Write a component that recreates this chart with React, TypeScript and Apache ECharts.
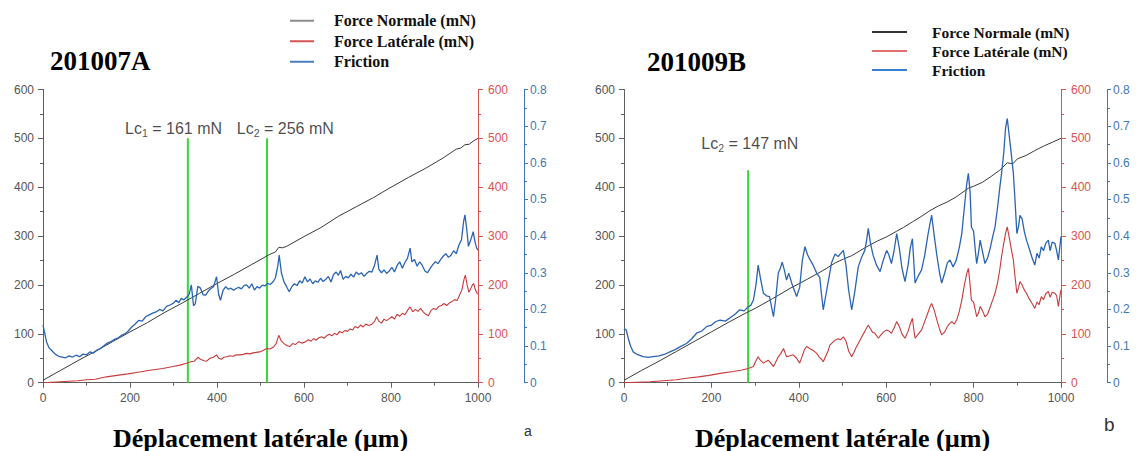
import { useEffect, useRef } from "react";
import * as echarts from "echarts";

// ---------- Labels ----------
const seriesNames = ["Force Normale (mN)", "Force Latérale (mN)", "Friction"];
const chartTitles = ["201007A", "201009B"];
const xAxisTitle = "Déplacement latérale (µm)";
const panelLetters = ["a", "b"];

// ---------- Chart A (201007A) ----------
const normalA: number[][] = [
  [0, 5], [40, 25], [80, 45], [120, 64], [160, 84], [200, 104], [240, 123], [280, 144], [320, 163],
  [360, 183], [400, 203], [440, 222], [480, 242], [520, 262], [535, 268], [542, 277], [550, 276],
  [560, 279], [600, 299], [640, 318], [680, 341], [720, 360], [760, 379], [800, 400], [840, 420],
  [880, 439], [920, 460], [950, 478], [960, 480], [970, 487], [980, 488], [990, 495], [1000, 500],
];
const lateralA: number[][] = [
  [0, 0], [20, 1], [40, 2], [60, 3], [80, 4], [100, 6], [120, 7], [146, 12], [170, 15], [195, 18],
  [222, 22], [250, 26], [275, 29], [299, 33], [315, 36], [330, 40], [340, 43], [348, 44], [356, 52],
  [362, 48], [370, 45], [376, 44], [384, 50], [392, 52], [399, 57], [404, 50], [410, 48], [416, 52],
  [422, 53], [430, 55], [437, 54], [444, 57], [452, 57], [460, 58], [468, 60], [476, 59], [483, 61],
  [490, 62], [498, 63], [506, 66], [514, 70], [522, 69], [530, 73], [536, 80], [542, 97], [548, 85],
  [554, 80], [560, 76], [567, 74], [574, 80], [580, 78], [588, 84], [595, 81], [602, 83], [610, 88],
  [616, 85], [622, 90], [628, 87], [634, 92], [640, 94], [646, 91], [652, 96], [658, 99], [664, 96],
  [670, 101], [676, 98], [682, 105], [688, 102], [694, 107], [700, 105], [706, 110], [712, 108],
  [717, 115], [724, 112], [730, 118], [736, 114], [742, 120], [748, 117], [755, 119], [762, 125],
  [767, 135], [772, 126], [778, 122], [784, 130], [790, 127], [796, 131], [802, 135], [808, 130],
  [814, 140], [820, 136], [826, 142], [832, 139], [838, 148], [844, 155], [850, 145], [856, 150],
  [862, 146], [868, 152], [874, 145], [880, 140], [886, 137], [892, 148], [898, 152], [904, 150],
  [910, 156], [916, 158], [922, 162], [928, 158], [934, 163], [940, 166], [946, 170], [952, 168],
  [958, 180], [963, 190], [968, 212], [971, 220], [975, 200], [979, 185], [983, 192], [987, 200],
  [990, 203], [994, 190], [998, 183], [1000, 181],
];
const frictionA: number[][] = [
  [0, 0.157], [4, 0.135], [8, 0.112], [14, 0.095], [20, 0.088], [28, 0.078], [36, 0.072], [44, 0.07],
  [52, 0.068], [60, 0.073], [68, 0.07], [76, 0.075], [84, 0.071], [92, 0.078], [100, 0.076],
  [108, 0.084], [116, 0.081], [124, 0.089], [132, 0.093], [140, 0.101], [148, 0.108], [156, 0.112],
  [164, 0.118], [172, 0.122], [180, 0.129], [188, 0.133], [196, 0.141], [204, 0.152], [212, 0.16],
  [220, 0.17], [228, 0.168], [236, 0.18], [244, 0.185], [252, 0.19], [260, 0.193], [268, 0.2],
  [276, 0.196], [284, 0.208], [292, 0.212], [300, 0.217], [306, 0.225], [312, 0.218], [318, 0.23],
  [324, 0.226], [330, 0.233], [336, 0.241], [341, 0.267], [346, 0.21], [350, 0.215], [356, 0.263],
  [362, 0.258], [368, 0.24], [374, 0.239], [380, 0.25], [386, 0.257], [392, 0.262], [399, 0.289],
  [404, 0.24], [408, 0.225], [414, 0.252], [420, 0.262], [426, 0.255], [432, 0.258], [438, 0.252],
  [444, 0.257], [450, 0.26], [456, 0.256], [462, 0.265], [468, 0.267], [474, 0.258], [480, 0.27],
  [486, 0.253], [492, 0.262], [498, 0.258], [504, 0.266], [510, 0.264], [516, 0.271], [522, 0.268],
  [528, 0.274], [534, 0.285], [540, 0.32], [543, 0.348], [548, 0.3], [554, 0.275], [560, 0.262],
  [566, 0.248], [572, 0.262], [578, 0.27], [584, 0.265], [590, 0.278], [596, 0.272], [602, 0.289],
  [608, 0.275], [614, 0.283], [620, 0.27], [626, 0.278], [632, 0.274], [638, 0.285], [644, 0.276],
  [650, 0.282], [656, 0.29], [662, 0.275], [668, 0.295], [674, 0.302], [679, 0.293], [684, 0.306],
  [690, 0.282], [696, 0.29], [702, 0.286], [708, 0.296], [714, 0.288], [720, 0.302], [726, 0.295],
  [732, 0.3], [738, 0.29], [744, 0.298], [750, 0.304], [756, 0.302], [762, 0.32], [768, 0.348],
  [772, 0.31], [778, 0.3], [784, 0.308], [790, 0.298], [796, 0.305], [802, 0.315], [808, 0.302],
  [814, 0.32], [820, 0.33], [826, 0.312], [832, 0.328], [838, 0.34], [844, 0.367], [848, 0.33],
  [854, 0.336], [860, 0.318], [866, 0.33], [872, 0.32], [878, 0.305], [884, 0.3], [890, 0.312],
  [896, 0.322], [902, 0.33], [908, 0.325], [914, 0.336], [920, 0.345], [926, 0.352], [932, 0.342],
  [938, 0.348], [944, 0.36], [950, 0.352], [956, 0.375], [962, 0.39], [967, 0.44], [970, 0.458],
  [974, 0.42], [978, 0.372], [982, 0.385], [986, 0.4], [989, 0.412], [993, 0.385], [997, 0.367],
  [1000, 0.362],
];
const criticalA: number[][][] = [
  [[333, 0], [333, 500]],
  [[515, 0], [515, 500]],
];
const criticalLabelsA = [
  { x: 300, y: 521, sub: "1", value: "161 mN" },
  { x: 557, y: 521, sub: "2", value: "256 mN" },
];

// ---------- Chart B (201009B) ----------
const normalB: number[][] = [
  [0, 5], [40, 25], [80, 44], [120, 64], [160, 84], [200, 104], [240, 124], [284, 145], [300, 152],
  [340, 172], [380, 193], [420, 212], [460, 232], [483, 245], [502, 253], [521, 260], [540, 270],
  [559, 280], [580, 290], [600, 298], [624, 310], [640, 318], [660, 329], [680, 340], [700, 352],
  [720, 362], [740, 370], [760, 380], [788, 398], [800, 402], [820, 410], [840, 422], [860, 435],
  [877, 450], [890, 448], [900, 458], [920, 465], [940, 475], [960, 484], [980, 492], [1000, 500],
];
const lateralB: number[][] = [
  [0, 0], [30, 1], [60, 2], [90, 4], [120, 6], [143, 9], [170, 12], [195, 15], [220, 19], [250, 23],
  [270, 26], [284, 29], [296, 33], [302, 45], [307, 53], [312, 46], [319, 40], [326, 44], [330, 46],
  [336, 40], [342, 33], [347, 42], [353, 53], [359, 60], [365, 70], [369, 60], [372, 53], [380, 55],
  [387, 57], [395, 50], [402, 40], [408, 55], [413, 68], [418, 74], [425, 70], [433, 66], [441, 60],
  [447, 52], [452, 48], [456, 43], [462, 55], [467, 65], [471, 77], [477, 82], [483, 87], [490, 90],
  [496, 88], [502, 94], [508, 85], [514, 65], [518, 58], [521, 53], [526, 62], [531, 72], [536, 80],
  [543, 92], [551, 105], [555, 112], [559, 118], [564, 110], [569, 103], [574, 101], [578, 96],
  [582, 91], [588, 98], [594, 104], [601, 108], [606, 106], [612, 101], [618, 112], [624, 125],
  [630, 115], [636, 100], [643, 91], [650, 105], [655, 120], [660, 132], [663, 110], [666, 91],
  [672, 98], [681, 108], [688, 125], [695, 142], [700, 155], [704, 162], [710, 148], [716, 128],
  [722, 110], [727, 98], [734, 104], [740, 115], [746, 122], [750, 125], [756, 120], [762, 130],
  [767, 145], [773, 169], [779, 200], [784, 222], [788, 234], [791, 210], [795, 169], [800, 165],
  [804, 148], [807, 135], [811, 142], [815, 156], [820, 148], [826, 135], [832, 140], [838, 155],
  [844, 170], [849, 183], [855, 205], [860, 232], [864, 258], [869, 285], [873, 305], [877, 319],
  [881, 300], [886, 275], [891, 251], [895, 215], [899, 183], [903, 195], [906, 207], [911, 200],
  [916, 190], [921, 183], [927, 172], [934, 162], [940, 152], [945, 165], [950, 160], [955, 176],
  [960, 170], [965, 182], [971, 187], [975, 175], [980, 185], [986, 183], [990, 178], [994, 156],
  [997, 175], [1000, 190],
];
const frictionB: number[][] = [
  [0, 0.147], [5, 0.144], [10, 0.12], [15, 0.1], [21, 0.084], [30, 0.077], [44, 0.071], [55, 0.069],
  [67, 0.071], [80, 0.073], [92, 0.077], [105, 0.084], [118, 0.091], [130, 0.099], [143, 0.107],
  [155, 0.12], [166, 0.135], [178, 0.141], [189, 0.153], [200, 0.157], [210, 0.167], [220, 0.171],
  [232, 0.168], [243, 0.177], [254, 0.187], [265, 0.199], [275, 0.196], [284, 0.207], [290, 0.211],
  [296, 0.225], [302, 0.267], [307, 0.321], [312, 0.287], [319, 0.244], [326, 0.237], [333, 0.235],
  [342, 0.18], [347, 0.227], [353, 0.299], [358, 0.313], [362, 0.329], [367, 0.307], [372, 0.28],
  [377, 0.299], [385, 0.267], [395, 0.235], [402, 0.26], [408, 0.333], [414, 0.371], [420, 0.349],
  [426, 0.335], [433, 0.32], [441, 0.299], [448, 0.287], [452, 0.24], [456, 0.199], [462, 0.24],
  [468, 0.28], [475, 0.327], [483, 0.351], [490, 0.344], [496, 0.353], [502, 0.361], [508, 0.32],
  [514, 0.253], [521, 0.199], [528, 0.247], [536, 0.316], [543, 0.34], [551, 0.361], [555, 0.387],
  [559, 0.421], [564, 0.38], [570, 0.348], [578, 0.32], [586, 0.303], [593, 0.333], [601, 0.361],
  [606, 0.349], [612, 0.325], [618, 0.36], [624, 0.407], [630, 0.367], [636, 0.313], [643, 0.276],
  [650, 0.32], [655, 0.367], [660, 0.393], [666, 0.272], [674, 0.293], [681, 0.308], [688, 0.347],
  [695, 0.4], [700, 0.433], [704, 0.457], [710, 0.4], [716, 0.347], [722, 0.3], [727, 0.272],
  [734, 0.3], [740, 0.327], [746, 0.335], [753, 0.316], [760, 0.333], [767, 0.367], [773, 0.407],
  [779, 0.48], [784, 0.54], [788, 0.571], [792, 0.52], [795, 0.425], [800, 0.413], [804, 0.36],
  [807, 0.325], [811, 0.353], [815, 0.389], [820, 0.36], [826, 0.325], [832, 0.34], [838, 0.367],
  [844, 0.4], [849, 0.425], [855, 0.48], [860, 0.533], [864, 0.571], [869, 0.627], [873, 0.693],
  [877, 0.721], [881, 0.68], [886, 0.627], [891, 0.571], [895, 0.493], [899, 0.407], [903, 0.427],
  [906, 0.457], [911, 0.447], [916, 0.413], [921, 0.389], [927, 0.367], [934, 0.34], [940, 0.321],
  [945, 0.353], [950, 0.34], [955, 0.371], [960, 0.36], [965, 0.38], [971, 0.389], [975, 0.36],
  [980, 0.384], [986, 0.38], [990, 0.36], [994, 0.335], [997, 0.367], [1000, 0.399],
];
const criticalB: number[][][] = [[[284, 0], [284, 435]]];
const criticalLabelsB = [{ x: 288, y: 490, sub: "2", value: "147 mN" }];

// ---------- Styling ----------
const SANS = "'Liberation Sans', Arial, sans-serif";
const SERIF = "'Liberation Serif', 'Times New Roman', serif";
const AXIS_GRAY = "#5e5e5e";
const AXIS_RED = "#d9534f";
const AXIS_BLUE = "#3f78b5";
const GREEN = "#39d839";

const grids = [
  { left: 43, top: 89.5, width: 435, height: 293.2 },
  { left: 624, top: 89.5, width: 437, height: 293.2 },
];

function xAxisFor(i: number) {
  return {
    type: "value",
    gridIndex: i,
    min: 0,
    max: 1000,
    interval: 200,
    axisLine: { show: true, onZero: false, lineStyle: { color: AXIS_GRAY, width: 1 } },
    axisTick: { show: true, inside: false, length: 5, lineStyle: { color: AXIS_GRAY } },
    minorTick: { show: true, splitNumber: 2, length: 3, lineStyle: { color: AXIS_GRAY } },
    splitLine: { show: false },
    axisLabel: {
      color: "#555",
      fontSize: 12,
      margin: 9,
      fontFamily: SANS,
      formatter: (v: number) => String(v),
    },
  };
}

function yAxesFor(i: number) {
  const common = {
    type: "value",
    gridIndex: i,
    splitLine: { show: false },
  };
  return [
    {
      ...common,
      position: "left",
      min: 0,
      max: 600,
      interval: 100,
      axisLine: { show: true, onZero: false, lineStyle: { color: AXIS_GRAY } },
      axisTick: { show: true, inside: false, length: 5, lineStyle: { color: AXIS_GRAY } },
      minorTick: { show: true, splitNumber: 2, length: 3, lineStyle: { color: AXIS_GRAY } },
      axisLabel: { color: "#555", fontSize: 12, margin: 9, fontFamily: SANS },
    },
    {
      ...common,
      position: "right",
      offset: 0,
      min: 0,
      max: 600,
      interval: 100,
      axisLine: { show: true, onZero: false, lineStyle: { color: AXIS_RED } },
      axisTick: { show: true, inside: false, length: 5, lineStyle: { color: AXIS_RED } },
      minorTick: { show: true, splitNumber: 2, length: 3, lineStyle: { color: AXIS_RED } },
      axisLabel: { color: AXIS_RED, fontSize: 12, margin: 10, fontFamily: SANS },
    },
    {
      ...common,
      position: "right",
      offset: 46,
      min: 0,
      max: 0.8,
      interval: 0.1,
      axisLine: { show: true, onZero: false, lineStyle: { color: AXIS_BLUE } },
      axisTick: { show: true, inside: false, length: 4, lineStyle: { color: AXIS_BLUE } },
      minorTick: { show: true, splitNumber: 2, length: 3, lineStyle: { color: AXIS_BLUE } },
      axisLabel: {
        color: AXIS_BLUE,
        fontSize: 12,
        margin: 6,
        fontFamily: SANS,
        formatter: (v: number) => (v === 0 ? "0" : v.toFixed(1)),
      },
    },
  ];
}

function lineSeries(name: string, data: number[][], xi: number, yi: number, color: string, width: number) {
  return {
    name,
    type: "line",
    xAxisIndex: xi,
    yAxisIndex: yi,
    data,
    showSymbol: false,
    symbol: "none",
    silent: true,
    lineStyle: { color, width },
    itemStyle: { color },
    z: 3,
  };
}

function greenSeries(data: number[][], xi: number, yi: number) {
  return {
    type: "line",
    xAxisIndex: xi,
    yAxisIndex: yi,
    data,
    showSymbol: false,
    symbol: "none",
    silent: true,
    lineStyle: { color: GREEN, width: 2 },
    z: 2,
  };
}

function labelSeries(items: { x: number; y: number; sub: string; value: string }[], xi: number, yi: number) {
  return {
    type: "scatter",
    xAxisIndex: xi,
    yAxisIndex: yi,
    symbolSize: 0,
    silent: true,
    data: items.map((it) => ({ value: [it.x, it.y], sub: it.sub, text: it.value })),
    label: {
      show: true,
      position: "inside",
      formatter: (p: any) => `{a|Lc}{s|${p.data.sub}}{a| = ${p.data.text}}`,
      rich: {
        a: { fontFamily: SANS, fontSize: 16, color: "#1a1a1a", lineHeight: 20, verticalAlign: "middle" },
        s: { fontFamily: SANS, fontSize: 10.5, color: "#1a1a1a", lineHeight: 20, padding: [10, 0, 0, 0] },
      },
    },
  };
}

function legendFor(left: number, top: number, itemWidth: number, textPad: number, fontSize: number, gap: number, colors: string[], h: number) {
  return {
    orient: "vertical",
    left,
    top,
    padding: 0,
    itemGap: 0,
    itemWidth,
    itemHeight: h,
    icon: "rect",
    selectedMode: false,
    textStyle: {
      fontFamily: SERIF,
      fontWeight: "bold",
      fontSize,
      color: "#111",
      lineHeight: gap,
      padding: [0, 0, 0, textPad],
    },
    data: seriesNames.map((n, k) => ({ name: n, itemStyle: { color: colors[k] } })),
  };
}

export default function App() {
  const ref = useRef<HTMLDivElement>(null);
  useEffect(() => {
    document.body.style.margin = "0";
    if (!ref.current) return;
    const chart = echarts.init(ref.current, null, { renderer: "svg" });
    const option: any = {
      animation: false,
      backgroundColor: "#ffffff",
      grid: grids.map((g) => ({ ...g, containLabel: false })),
      xAxis: [xAxisFor(0), xAxisFor(1)],
      yAxis: [...yAxesFor(0), ...yAxesFor(1)],
      legend: [
        legendFor(290, 10.5, 24, 15, 16, 20.5, ["#8c8c8c", "#d65555", "#4a7cc0"], 2),
        legendFor(872, 22.5, 35, 20, 15.5, 19, ["#333333", "#e07070", "#3a7fd0"], 2),
      ],
      series: [
        lineSeries(seriesNames[0], normalA, 0, 0, "#3a3a3a", 1),
        lineSeries(seriesNames[1], lateralA, 0, 1, "#c83a3a", 1.1),
        lineSeries(seriesNames[2], frictionA, 0, 2, "#2a64b4", 1.3),
        ...criticalA.map((d) => greenSeries(d, 0, 0)),
        labelSeries(criticalLabelsA, 0, 0),
        lineSeries(seriesNames[0], normalB, 1, 3, "#3a3a3a", 1),
        lineSeries(seriesNames[1], lateralB, 1, 4, "#c83a3a", 1.1),
        lineSeries(seriesNames[2], frictionB, 1, 5, "#2a64b4", 1.3),
        ...criticalB.map((d) => greenSeries(d, 1, 3)),
        labelSeries(criticalLabelsB, 1, 3),
      ],
      graphic: [
        {
          type: "text", x: 50, y: 61,
          style: { text: chartTitles[0], font: `bold 27px ${SERIF}`, fill: "#000", align: "left", verticalAlign: "middle" },
        },
        {
          type: "text", x: 647, y: 62,
          style: { text: chartTitles[1], font: `bold 27px ${SERIF}`, fill: "#000", align: "left", verticalAlign: "middle" },
        },
        {
          type: "text", x: 260.5, y: 438,
          style: { text: xAxisTitle, font: `bold 26px ${SERIF}`, fill: "#000", align: "center", verticalAlign: "middle" },
        },
        {
          type: "text", x: 842.5, y: 438,
          style: { text: xAxisTitle, font: `bold 26px ${SERIF}`, fill: "#000", align: "center", verticalAlign: "middle" },
        },
        {
          type: "text", x: 524, y: 431,
          style: { text: panelLetters[0], font: `14px ${SANS}`, fill: "#333", align: "left", verticalAlign: "middle" },
        },
        {
          type: "text", x: 1104, y: 424,
          style: { text: panelLetters[1], font: `19px ${SANS}`, fill: "#333", align: "left", verticalAlign: "middle" },
        },
      ],
    };
    chart.setOption(option);
    return () => chart.dispose();
  }, []);
  return <div ref={ref} style={{ width: 1137, height: 451 }} />;
}
